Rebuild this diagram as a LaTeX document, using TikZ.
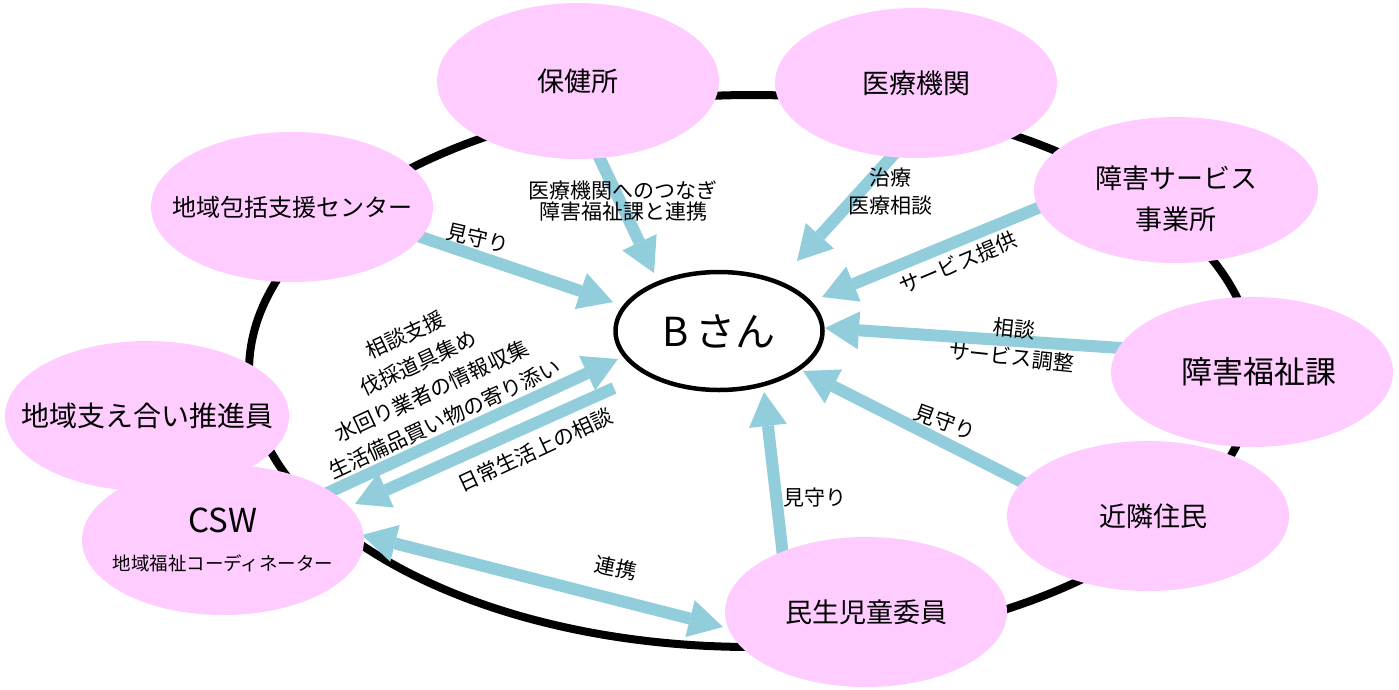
\documentclass[tikz,border=0pt]{standalone}
\usepackage{fontspec}
\setmainfont{Noto Sans CJK JP}
\usetikzlibrary{shapes.geometric,arrows.meta}
\definecolor{pinkfill}{HTML}{FFCCFF}
\definecolor{arrowblue}{HTML}{92CDDC}
\begin{document}
\begin{tikzpicture}[x=1pt,y=-1pt,
  party/.style={ellipse, fill=pinkfill, inner xsep=-120pt, inner ysep=-40pt, minimum width=282pt, minimum height=150pt, align=center, font=\fontsize{27}{40}\selectfont},
  tipA/.tip={Triangle[width=38pt,length=34pt,line width=0pt]},
  flow/.style={draw=arrowblue, line width=12pt, -tipA},
  both/.style={draw=arrowblue, line width=12pt, tipA-tipA},
  lbl/.style={font=\fontsize{21}{28}\selectfont, align=center, inner sep=0pt}
]
\useasboundingbox (0,0) rectangle (1399,689);
% outer ring
\draw[line width=8pt] (752,371) ellipse [x radius=503, y radius=276];
% arrow end points
\coordinate (t1) at (412,234);  \coordinate (h1) at (613,302);
\coordinate (t2) at (591,140);  \coordinate (h2) at (654,273);
\coordinate (t3) at (905,142);  \coordinate (h3) at (797,261);
\coordinate (t4) at (1050,203); \coordinate (h4) at (822,297);
\coordinate (t5) at (1135,349); \coordinate (h5) at (825,328);
\coordinate (t6) at (1030,486); \coordinate (h6) at (803,371);
\coordinate (t7) at (784,565);  \coordinate (h7) at (764,392);
\coordinate (t8) at (325,494);  \coordinate (h8) at (618,359);
\coordinate (t9) at (614,388);  \coordinate (h9) at (355,504);
\coordinate (c1) at (362,535);  \coordinate (c2) at (723,627);
% arrows
\draw[flow] (t1) -- (h1);
\draw[flow] (t2) -- (h2);
\draw[flow] (t3) -- (h3);
\draw[flow] (t4) -- (h4);
\draw[flow] (t5) -- (h5);
\draw[flow] (t6) -- (h6);
\draw[flow] (t7) -- (h7);
\draw[flow] (t8) -- (h8);
\draw[flow] (t9) -- (h9);
\draw[both] (c1) -- (c2);
% nodes
\node[party, minimum height=156pt] (hoken) at (578,81) {保健所};
\node[party] (iryo) at (916,83) {医療機関};
\node[party, minimum width=284pt, minimum height=146pt, font=\fontsize{27}{41}\selectfont] (jigyo) at (1176,190) {\rule{0pt}{40pt}障害サービス\\事業所};
\node[party, font=\fontsize{31}{40}\selectfont] (fukushi) at (1252,372) {\hspace*{14pt}障害福祉課};
\node[party] (kinrin) at (1148,516) {\hspace*{10pt}近隣住民};
\node[party] (minsei) at (866,612) {民生児童委員};
\node[party, minimum width=284pt, font=\fontsize{28}{40}\selectfont] (sasae) at (147,416) {地域支え合い推進員};
\node[party] (csw) at (223,540) {\fontsize{33}{34}\selectfont CSW\\[-2pt]\fontsize{18.5}{22}\selectfont 地域福祉コーディネーター};
\node[party, font=\fontsize{24}{30}\selectfont] (hokatsu) at (292,207) {地域包括支援センター};
\node[ellipse, draw, line width=4.5pt, fill=white, inner sep=0pt, minimum width=207pt, minimum height=118pt, font=\fontsize{40}{44}\selectfont] (b) at (719,331) {B\hspace{6pt}さん};
% labels
\node[lbl, rotate=-13] (l1) at (478,238) {見守り};
\node[lbl, font=\fontsize{21}{21}\selectfont] (l2) at (623,201) {医療機関へのつなぎ\\障害福祉課と連携};
\node[lbl] (l3) at (890,192) {治療\\医療相談};
\node[lbl, rotate=23] (l4) at (958,263) {サービス提供};
\node[lbl, rotate=-6] (l5) at (1013,343) {相談\\サービス調整};
\node[lbl, rotate=-20] (l6) at (945,422) {見守り};
\node[lbl] (l7) at (815,498) {見守り};
\node[lbl, rotate=25, font=\fontsize{21}{31}\selectfont] (l8) at (425,377) {相談支援\\伐採道具集め\\水回り業者の情報収集\\生活備品買い物の寄り添い};
\node[lbl, rotate=25] (l9) at (535,450) {日常生活上の相談};
\node[lbl, rotate=-12] (l10) at (616,568) {連携};
\end{tikzpicture}
\end{document}
